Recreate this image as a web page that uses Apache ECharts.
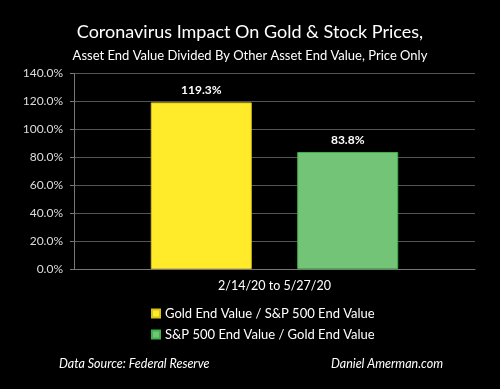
<!DOCTYPE html>
<html><head><meta charset="utf-8">
<script src="https://cdn.jsdelivr.net/npm/echarts@6/dist/echarts.min.js"></script>
<style>html,body{margin:0;padding:0;background:#000;}#c{width:500px;height:389px;}</style>
</head><body><div id="c"></div>
<script>
const categories = ['2/14/20 to 5/27/20'];
const seriesNames = ['Gold End Value / S&P 500 End Value', 'S&P 500 End Value / Gold End Value'];
const goldOverSP = [119.3];
const spOverGold = [83.8];
const yTicks = [0, 20, 40, 60, 80, 100, 120, 140];

const FONT = 'Lato';
const chart = echarts.init(document.getElementById('c'));
chart.setOption({
  backgroundColor: '#000',
  animation: false,
  textStyle: { fontFamily: FONT },
  title: [
    { text: 'Coronavirus Impact On Gold & Stock Prices,', left: 'center', top: 18,
      textStyle: { color: '#fff', fontSize: 18, fontWeight: 'normal', fontFamily: FONT } },
    { text: 'Asset End Value Divided By Other Asset End Value, Price Only', left: 'center', top: 44,
      textStyle: { color: '#fff', fontSize: 13, fontWeight: 'normal', fontFamily: FONT } },
    { text: 'Data Source: Federal Reserve', left: 54, top: 352,
      textStyle: { color: '#fff', fontSize: 12.5, fontStyle: 'italic', fontWeight: 'normal', fontFamily: FONT } },
    { text: 'Daniel Amerman.com', left: 326, top: 352,
      textStyle: { color: '#fff', fontSize: 12.5, fontStyle: 'italic', fontWeight: 'normal', fontFamily: FONT } }
  ],
  legend: {
    orient: 'vertical', left: 146, top: 302, itemGap: 8,
    itemWidth: 8, itemHeight: 8, icon: 'rect',
    textStyle: { color: '#fff', fontSize: 13, fontFamily: FONT },
    data: seriesNames
  },
  grid: { left: 74, right: 25, top: 73.5, bottom: 120, containLabel: false },
  xAxis: {
    type: 'category', data: categories,
    axisLine: { lineStyle: { color: '#777' } },
    axisTick: { lineStyle: { color: '#777' }, length: 4 },
    axisLabel: { color: '#fff', fontSize: 12.5, margin: 10, fontFamily: FONT }
  },
  yAxis: {
    type: 'value', min: yTicks[0], max: yTicks[yTicks.length - 1], interval: 20,
    axisLine: { show: true, lineStyle: { color: '#777' } },
    axisTick: { show: true, length: 4, lineStyle: { color: '#777' } },
    splitLine: { lineStyle: { color: '#555' } },
    axisLabel: { color: '#ddd', fontSize: 12, margin: 11, fontFamily: FONT,
      formatter: v => v.toFixed(1) + '%' }
  },
  series: [
    { name: seriesNames[0], type: 'bar', data: goldOverSP, barWidth: 101, barGap: '45%',
      itemStyle: { color: '#FFEB2A', borderColor: '#D9C21A', borderWidth: 1 },
      label: { show: true, position: 'top', distance: 6, color: '#fff', fontWeight: 'bold', fontSize: 12, fontFamily: FONT,
        formatter: p => p.value.toFixed(1) + '%' } },
    { name: seriesNames[1], type: 'bar', data: spOverGold, barWidth: 101,
      itemStyle: { color: '#74C477', borderColor: '#3FB14C', borderWidth: 1 },
      label: { show: true, position: 'top', distance: 6, color: '#fff', fontWeight: 'bold', fontSize: 12, fontFamily: FONT,
        formatter: p => p.value.toFixed(1) + '%' } }
  ]
});
</script></body></html>
